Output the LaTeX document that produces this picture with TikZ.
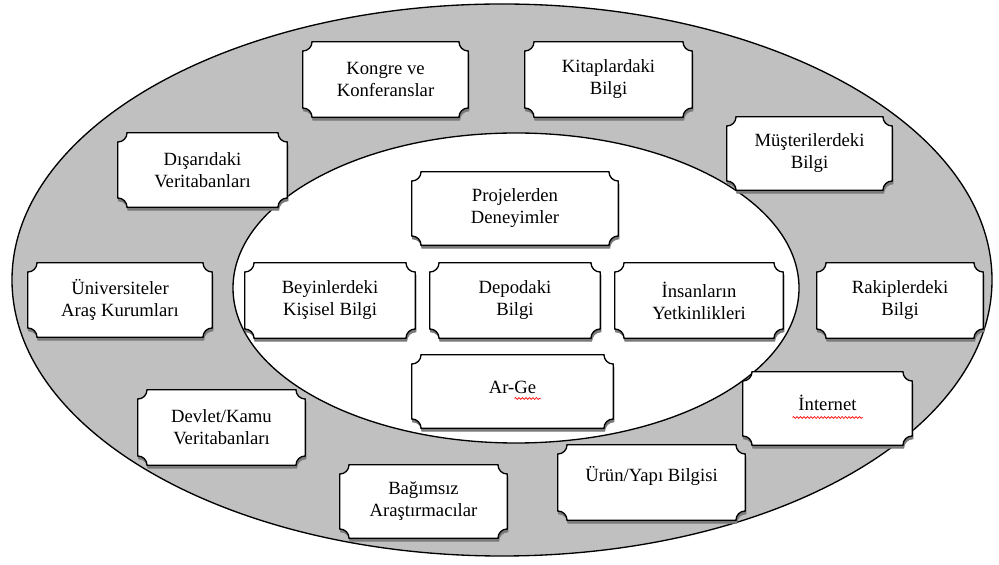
\documentclass[tikz,border=0pt]{standalone}
\usepackage{fontspec}
\setmainfont{Liberation Serif}
\usetikzlibrary{calc,decorations.pathmorphing}

\definecolor{ringgray}{HTML}{C0C0C0}
\definecolor{shadowgray}{HTML}{7A7A7A}

\pgfdeclarelayer{ovals}
\pgfdeclarelayer{plaques}
\pgfsetlayers{ovals,plaques,main}

\def\plqr{7pt}

% concave-cornered plaque around a node, optionally offset (for the shadow)
\newcommand\plaqueoutline[4]{%
  \path[#4] let \p1=(#1.south west), \p2=(#1.north east) in
    ({\x1+#2},{\y2-\plqr+#3}) arc[start angle=-90,end angle=0,radius=\plqr]
    -- ({\x2-\plqr+#2},{\y2+#3}) arc[start angle=180,end angle=270,radius=\plqr]
    -- ({\x2+#2},{\y1+\plqr+#3}) arc[start angle=90,end angle=180,radius=\plqr]
    -- ({\x1+\plqr+#2},{\y1+#3}) arc[start angle=0,end angle=90,radius=\plqr]
    -- cycle;}
\newcommand\plaque[1]{%
  \begin{pgfonlayer}{plaques}
    \plaqueoutline{#1}{0.6pt}{-2.2pt}{plqshadow}
    \plaqueoutline{#1}{0pt}{0pt}{plqbody}
  \end{pgfonlayer}}

\begin{document}
\begin{tikzpicture}[x=0.75pt,y=0.75pt,
  box/.style 2 args={minimum width=#1*0.75pt, minimum height=#2*0.75pt,
    inner sep=0pt, align=center, font=\fontsize{14}{16.5}\selectfont},
  plqshadow/.style={fill=shadowgray, draw=shadowgray, line width=0.6pt},
  plqbody/.style={fill=white, draw=black, line width=1pt},
  oval/.style={draw=black, line width=1pt},
  squiggle/.style={draw=red, line width=0.5pt,
    decorate, decoration={snake, amplitude=0.7pt, segment length=2.6pt}}]

\useasboundingbox (0,0) rectangle (999,564);

% the two rings
\begin{pgfonlayer}{ovals}
  \path[oval, fill=ringgray] (502,284) ellipse [x radius=490, y radius=276];
  \path[oval, fill=white] (516,276) ellipse [x radius=283, y radius=155];
\end{pgfonlayer}

% outer ring
\node[box={165}{75}] (kongre)   at (385.5,484.5) {Kongre ve\\Konferanslar};
\node[box={167}{75}] (kitap)    at (608.5,484.5) {Kitaplardaki\\Bilgi};
\node[box={165}{73}] (musteri)  at (809.5,410.5) {Müşterilerdeki\\Bilgi};
\node[box={169}{74}] (disari)   at (202.5,394)   {Dışarıdaki\\Veritabanları};
\node[box={184}{74}] (univ)     at (120,264)     {Üniversiteler\\Araş Kurumları};
\node[box={166}{75}] (rakip)    at (900,263.5)   {Rakiplerdeki\\Bilgi};
\node[box={167}{75}] (devlet)   at (221.5,136.5) {Devlet/Kamu\\Veritabanları};
\node[box={169}{73}, text depth=8pt] (internet) at (827.5,155.5) {İnternet};
\node[box={187}{75}, text depth=13pt] (urun) at (651.5,81.5) {Ürün/Yapı Bilgisi};
\node[box={167}{73}] (bagimsiz) at (423.5,62.5)  {Bağımsız\\Araştırmacılar};

% inner ring
\node[box={206}{73}] (proje)    at (515,355.5)   {Projelerden\\Deneyimler};
\node[box={170}{75}] (beyin)    at (330,263.5)   {Beyinlerdeki\\Kişisel Bilgi};
\node[box={170}{75}] (depo)     at (515,263.5)   {Depodaki\\Bilgi};
\node[box={168}{75}] (insan)    at (699,263.5)   {İnsanların\\Yetkinlikleri};
\node[box={201}{73}, text depth=6pt] (arge) at (512.5,172.5) {Ar-Ge};

\foreach \bx in {kongre,kitap,musteri,disari,univ,rakip,devlet,internet,urun,
                 bagimsiz,proje,beyin,depo,insan,arge}
  {\plaque{\bx}}

% spell-check marks
\draw[squiggle] ([shift={(-35,-9)}]internet.center) -- ([shift={(35,-9)}]internet.center);
\draw[squiggle] ([shift={(2,-7)}]arge.center) -- ([shift={(28,-7)}]arge.center);

\end{tikzpicture}
\end{document}
